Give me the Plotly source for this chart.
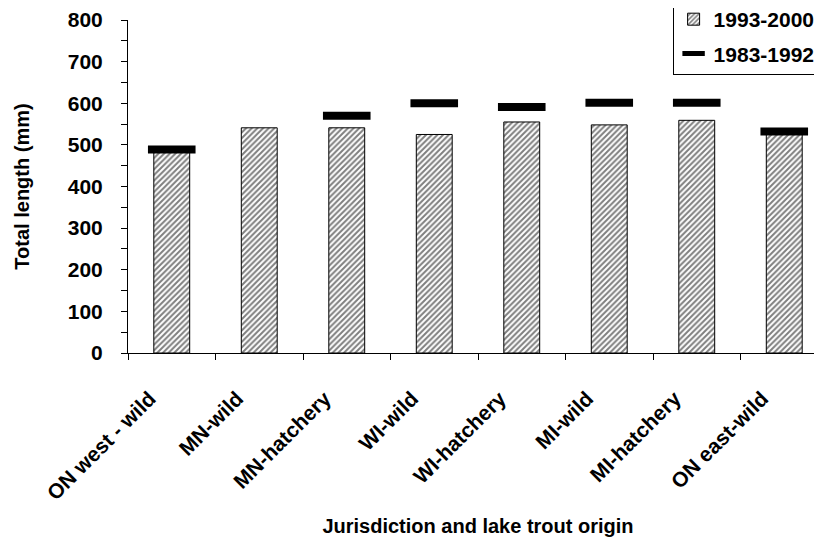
import plotly.graph_objects as go

categories = ["ON west - wild", "MN-wild", "MN-hatchery", "WI-wild",
              "WI-hatchery", "MI-wild", "MI-hatchery", "ON east-wild"]
recent = [485, 541, 541, 525, 555, 548, 559, 525]          # 1993-2000
earlier = [489, None, 570, 600, 591, 601, 601, 532]        # 1983-1992
y_ticks = [0, 100, 200, 300, 400, 500, 600, 700, 800]

FONT = "Liberation Sans, Arial, sans-serif"

fig = go.Figure()
fig.add_trace(go.Bar(
    x=categories, y=recent, name="1993-2000", width=0.41,
    legendgroup="a",
    marker=dict(color="white", line=dict(color="black", width=1),
                pattern=dict(shape="/", fgcolor="black", bgcolor="white",
                             size=4, solidity=0.5)),
))
fig.add_trace(go.Scatter(
    x=categories, y=earlier, name="1983-1992", mode="markers",
    legendgroup="b",
    marker=dict(symbol="line-ew", size=34, color="black",
                line=dict(color="black", width=8)),
))

fig.update_layout(
    width=822, height=542,
    margin=dict(l=120, r=2, t=12, b=197, autoexpand=False),
    paper_bgcolor="white", plot_bgcolor="white",
    font=dict(family=FONT, size=21, color="black", weight="bold"),
    showlegend=True,
    legend=dict(x=0.778, xanchor="left", y=1.066, yanchor="top",
                bordercolor="black", borderwidth=1, bgcolor="white",
                traceorder="grouped", tracegroupgap=4, itemwidth=30,
                font=dict(family=FONT, size=21, weight="bold")),
)
fig.update_xaxes(
    range=[-0.5, 7.5], showline=True, linecolor="black", linewidth=1,
    ticks="outside", tickson="boundaries", ticklen=6, tickcolor="black",
    tickangle=-45, tickfont=dict(size=21, weight="bold"),
    ticklabelstandoff=24, ticklabelshift=-22, ticklabeloverflow="allow",
    title=dict(text="Jurisdiction and lake trout origin", standoff=15,
               font=dict(size=20, weight="bold")),
    automargin=False, showgrid=False, zeroline=False,
)
fig.update_yaxes(
    range=[0, 800], tickvals=y_ticks, showline=True, linecolor="black",
    linewidth=1, ticks="outside", ticklen=6, tickcolor="black",
    minor=dict(dtick=50, ticks="outside", ticklen=6, tickcolor="black"),
    ticklabelstandoff=14, tickfont=dict(size=21, weight="bold"),
    ticklabeloverflow="allow",
    title=dict(text="Total length (mm)", standoff=32,
               font=dict(size=20, weight="bold")),
    automargin=False, showgrid=False, zeroline=False,
)

fig.write_html("out.html")
